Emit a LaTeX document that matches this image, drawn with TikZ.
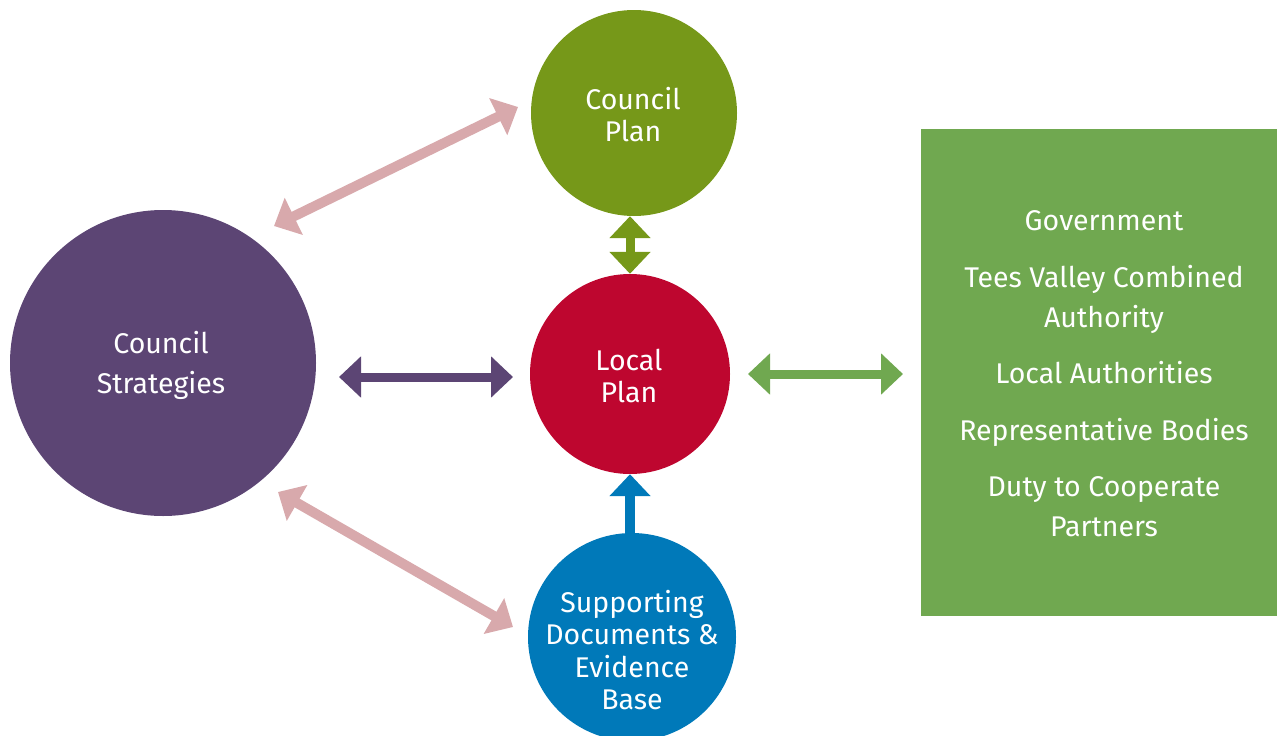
\documentclass[tikz,border=0pt]{standalone}
\usepackage{fontspec}
\setmainfont{Fira Sans}
\usetikzlibrary{arrows.meta}
\definecolor{cpurple}{HTML}{5C4574}
\definecolor{colive}{HTML}{769819}
\definecolor{cred}{HTML}{BE062F}
\definecolor{cblue}{HTML}{0079B9}
\definecolor{cgreen}{HTML}{70A850}
\definecolor{cpink}{HTML}{D8A9AC}
\tikzset{
  circ/.style={circle, inner sep=0pt},
  lbl/.style={text=white, align=center, inner sep=0pt},
  dbl/.style={line width=9pt, {Triangle[width=40pt,length=22pt]}-{Triangle[width=40pt,length=22pt]}},
  sgl/.style={line width=10pt, -{Triangle[width=40pt,length=22pt]}},
}
\begin{document}
\begin{tikzpicture}[x=1pt,y=-1pt]
\useasboundingbox (0,0) rectangle (1277,736);
\clip (0,0) rectangle (1277,736);
\node[circ, fill=colive, minimum size=206pt] (cp) at (634,113) {};
\node[lbl, font=\fontsize{28.5}{32}\selectfont] (cpt) at (633,115) {Council\\Plan};
\node[circ, fill=cred, minimum size=200pt] (lp) at (630,374) {};
\node[lbl, font=\fontsize{28.5}{32}\selectfont] (lpt) at (629,376) {Local\\Plan};
\node[circ, fill=cblue, minimum size=208pt] (sd) at (632,637) {};
\node[lbl, font=\fontsize{28.5}{32.5}\selectfont] (sdt) at (632,650) {Supporting\\Documents \&\\Evidence\\Base};
\node[circ, fill=cpurple, minimum size=306pt] (cs) at (163,363) {};
\node[lbl, font=\fontsize{28.5}{40}\selectfont] (cst) at (161,365) {Council\\Strategies};
\node[fill=cgreen, minimum width=356pt, minimum height=487pt, inner sep=0pt] (gb) at (1099,372.5) {};
\node[lbl, font=\fontsize{28.5}{40}\selectfont] (gbt) at (1104,374) {Government\\[17pt]Tees Valley Combined\\Authority\\[16pt]Local Authorities\\[17pt]Representative Bodies\\[16pt]Duty to Cooperate\\Partners};
% connector end points
\coordinate (pu1) at (274,226);
\coordinate (pu2) at (518,107);
\coordinate (pl1) at (278,492);
\coordinate (pl2) at (513,627);
\coordinate (h1) at (339,377);
\coordinate (h2) at (513,377);
\coordinate (g1) at (748,374);
\coordinate (g2) at (903,374);
\draw[dbl, draw=cpink, fill=cpink, line width=10pt] (pu1) -- (pu2);
\draw[dbl, draw=cpink, fill=cpink, line width=10pt] (pl1) -- (pl2);
\draw[dbl, draw=cpurple, fill=cpurple] (h1) -- (h2);
\draw[dbl, draw=cgreen, fill=cgreen] (g1) -- (g2);
\draw[dbl, draw=colive, fill=colive] (lp.north |- cp.south) -- (lp.north);
\draw[sgl, draw=cblue, fill=cblue] (lp.south |- sd.north) -- (lp.south);
\end{tikzpicture}
\end{document}
